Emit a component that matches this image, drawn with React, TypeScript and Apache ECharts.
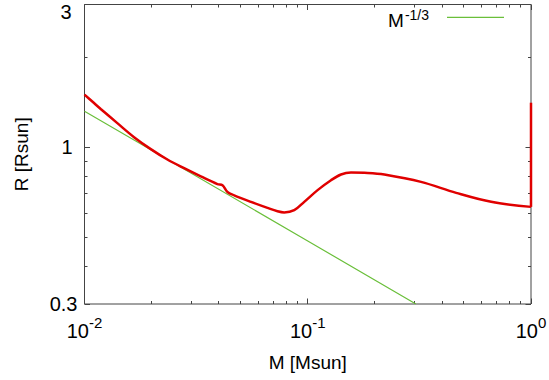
import React, { useEffect, useRef } from "react";
import * as echarts from "echarts";

// ---- data ----
const xMin = 0.01;
const xMax = 1;
const yMin = 0.3;
const yMax = 3;
const xTickValues = [0.01, 0.1, 1];
const xTickExponents = ["-2", "-1", "0"];
const xMinorTickValues = [
  0.02, 0.03, 0.04, 0.05, 0.06, 0.07, 0.08, 0.09,
  0.2, 0.3, 0.4, 0.5, 0.6, 0.7, 0.8, 0.9,
];
const yTickValues = [0.3, 1, 3];
const yTickLabels = ["0.3", "1", "3"];
const yMinorTickValues = [0.4, 0.5, 0.6, 0.7, 0.8, 0.9, 2];

// stellar model R(M)
const modelM = [
  0.01, 0.01087, 0.01182, 0.01403, 0.01667, 0.01981, 0.02351, 0.02794,
  0.03319, 0.03939, 0.0415, 0.04369, 0.04682, 0.05564, 0.06601, 0.07321,
  0.07846, 0.087, 0.09645, 0.1107, 0.1271, 0.1409, 0.1562, 0.1855,
  0.2203, 0.3215, 0.462, 0.663, 1.0,
];
const modelR = [
  1.5, 1.42, 1.344, 1.205, 1.082, 0.987, 0.911, 0.852,
  0.8, 0.754, 0.748, 0.71, 0.692, 0.658, 0.628, 0.612,
  0.6065, 0.617, 0.658, 0.72, 0.777, 0.812, 0.824, 0.822,
  0.812, 0.767, 0.705, 0.658, 0.633,
];
// last jump of the model track at M = 1
const modelEndM = [1, 1];
const modelEndR = [0.633, 1.41];

// M^-1/3 reference line
const powerName = "M^-1/3";
const powerM = [0.01, 0.1, 0.305];
const powerR = [1.32, 0.487, 0.3];

const FONT = "'Liberation Sans', Arial, Helvetica, sans-serif";
const BLACK = "#000";

export default function App() {
  const ref = useRef<HTMLDivElement>(null);

  useEffect(() => {
    document.body.style.margin = "0";
    if (!ref.current) return;
    const chart = echarts.init(ref.current, null, { renderer: "svg" });

    const zip = (a: number[], b: number[]) => a.map((v, i) => [v, b[i]]);
    const near = (a: number, b: number) =>
      Math.abs(a - b) < 1e-6 * Math.max(1, Math.abs(b));

    // tick marks: [x, y, axis(0=x,1=y), major(1/0)]
    const tickData: number[][] = [
      ...xTickValues.map((v) => [v, 1, 0, 1]),
      ...xMinorTickValues.map((v) => [v, 1, 0, 0]),
      ...yTickValues.map((v) => [0.1, v, 1, 1]),
      ...yMinorTickValues.map((v) => [0.1, v, 1, 0]),
    ];

    const yLabel = (v: number) => {
      const i = yTickValues.findIndex((t) => near(v, t));
      return i >= 0 ? yTickLabels[i] : "";
    };

    const hiddenAxisParts = {
      axisLine: { show: false },
      axisTick: { show: false },
      splitLine: { show: false },
      minorTick: { show: false },
      minorSplitLine: { show: false },
    };

    const option: any = {
      animation: false,
      backgroundColor: "#fff",
      textStyle: { fontFamily: FONT },
      grid: {
        left: 84.5,
        right: 18,
        top: 4.5,
        bottom: 76,
        show: true,
        borderColor: "#444",
        borderWidth: 1,
        backgroundColor: "transparent",
        outerBoundsMode: "none",
        containLabel: false,
      },
      legend: {
        data: [powerName],
        right: 45,
        top: 4.3,
        padding: 0,
        align: "right",
        icon: "rect",
        itemWidth: 57,
        itemHeight: 1.3,
        itemStyle: { borderWidth: 0 },
        selectedMode: false,
        formatter: () => "{m|M}{s|-1/3}",
        textStyle: {
          fontFamily: FONT,
          color: BLACK,
          rich: {
            m: { fontSize: 19, lineHeight: 26, verticalAlign: "bottom", padding: [4, 0, 0, 0], fontFamily: FONT, color: BLACK },
            s: { fontSize: 14, lineHeight: 12, verticalAlign: "top", padding: [4, 13, 0, 1], fontFamily: FONT, color: BLACK },
          },
        },
      },
      xAxis: {
        type: "log",
        logBase: 10,
        min: xMin,
        max: xMax,
        name: "M [Msun]",
        nameLocation: "middle",
        nameGap: 49,
        nameMoveOverlap: false,
        nameTextStyle: { fontSize: 19, color: BLACK, fontFamily: FONT },
        ...hiddenAxisParts,
        axisLabel: {
          customValues: xTickValues,
          margin: 11,
          color: BLACK,
          formatter: (v: number) => {
            const i = xTickValues.findIndex((t) => near(v, t));
            return "{b|10}{s|" + (i >= 0 ? xTickExponents[i] : "") + "}";
          },
          rich: {
            b: { fontSize: 20, lineHeight: 26, verticalAlign: "bottom", fontFamily: FONT, color: BLACK },
            s: { fontSize: 15, lineHeight: 12, verticalAlign: "top", fontFamily: FONT, color: BLACK },
          },
        },
      },
      yAxis: [
        {
          type: "log",
          logBase: 10,
          min: yMin,
          max: yMax,
          position: "left",
          name: "R [Rsun]",
          nameLocation: "middle",
          nameRotate: 90,
          nameGap: 54,
          nameMoveOverlap: false,
          nameTextStyle: { fontSize: 19, color: BLACK, fontFamily: FONT },
          ...hiddenAxisParts,
          axisLabel: {
            customValues: yTickValues.filter((v) => v < yMax),
            margin: 7,
            color: BLACK,
            formatter: (v: number) =>
              (near(v, yMin) ? "{a|" : "{b|") + yLabel(v) + "}",
            rich: {
              a: { fontSize: 20, fontFamily: FONT, color: BLACK },
              b: { fontSize: 20, fontFamily: FONT, color: BLACK, padding: [0, 5, 0, 0] },
            },
          },
        },
        {
          // carries only the top label, hung below the frame's top edge
          type: "log",
          logBase: 10,
          min: yMin,
          max: yMax,
          position: "left",
          ...hiddenAxisParts,
          axisLabel: {
            customValues: yTickValues.filter((v) => v >= yMax),
            margin: 7,
            color: BLACK,
            verticalAlign: "top",
            formatter: (v: number) => "{t|" + yLabel(v) + "}",
            rich: {
              t: { fontSize: 20, lineHeight: 14, fontFamily: FONT, color: BLACK, padding: [0, 6, 0, 0] },
            },
          },
        },
      ],
      series: [
        {
          name: "model",
          type: "line",
          data: zip(modelM, modelR),
          showSymbol: false,
          smooth: 0.35,
          lineStyle: { color: "#e00000", width: 2.5 },
          itemStyle: { color: "#e00000" },
          z: 3,
        },
        {
          name: "modelEnd",
          type: "line",
          data: zip(modelEndM, modelEndR),
          showSymbol: false,
          clip: false,
          lineStyle: { color: "#e00000", width: 2.5 },
          itemStyle: { color: "#e00000" },
          z: 3,
        },
        {
          name: powerName,
          type: "line",
          data: zip(powerM, powerR),
          showSymbol: false,
          lineStyle: { color: "#6abf3a", width: 1.2 },
          itemStyle: { color: "#6abf3a" },
          z: 2,
        },
        {
          name: "ticks",
          type: "custom",
          silent: true,
          clip: false,
          data: tickData,
          encode: { x: 0, y: 1 },
          renderItem: (params: any, api: any) => {
            const cs = params.coordSys;
            const isX = api.value(2) === 0;
            const len = api.value(3) === 1 ? 5.5 : 3;
            const p = api.coord([api.value(0), api.value(1)]);
            const style = { stroke: "#444", lineWidth: 1 };
            if (isX) {
              const x = Math.round(p[0] - 0.5) + 0.5;
              const yb = cs.y + cs.height;
              return {
                type: "group",
                children: [
                  { type: "line", shape: { x1: x, y1: yb, x2: x, y2: yb - len }, style },
                  { type: "line", shape: { x1: x, y1: cs.y, x2: x, y2: cs.y + len }, style },
                ],
              };
            }
            const y = Math.round(p[1] - 0.5) + 0.5;
            const xr = cs.x + cs.width;
            return {
              type: "group",
              children: [
                { type: "line", shape: { x1: cs.x, y1: y, x2: cs.x + len, y2: y }, style },
                { type: "line", shape: { x1: xr, y1: y, x2: xr - len, y2: y }, style },
              ],
            };
          },
          z: 1,
        },
      ],
    };

    chart.setOption(option);
    return () => chart.dispose();
  }, []);

  return <div ref={ref} style={{ width: 549, height: 380 }} />;
}
